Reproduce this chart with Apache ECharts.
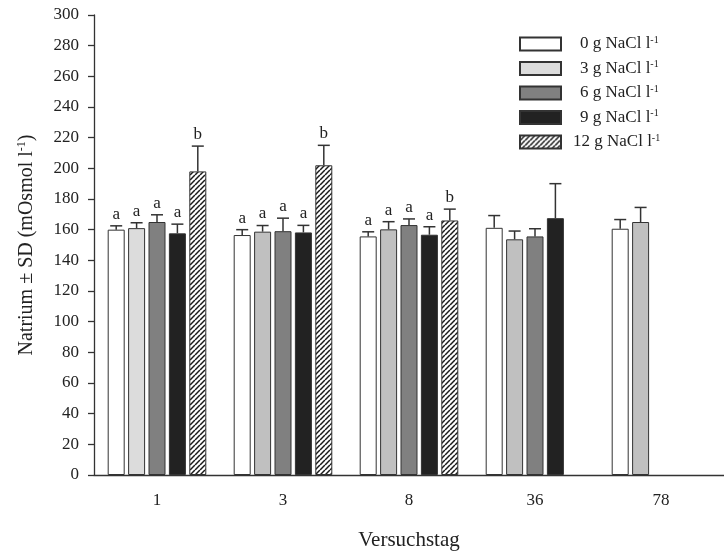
<!DOCTYPE html>
<html>
<head>
<meta charset="utf-8">
<script src="https://cdn.jsdelivr.net/npm/echarts@6/dist/echarts.min.js"></script>
<style>html,body{margin:0;padding:0;background:#fff;}#c{width:724px;height:556px;}</style>
</head>
<body>
<div id="c"></div>
<script>
const categories = ['1', '3', '8', '36', '78'];
const groupNames = ['0 g NaCl', '3 g NaCl', '6 g NaCl', '9 g NaCl', '12 g NaCl'];
const mean0 = [160, 156.5, 155.6, 161.2, 160.6];
const sd0 = [2.5, 3.5, 3, 8, 6];
const mean3 = [161, 158.7, 160.2, 153.7, 165];
const sd3 = [3.5, 4, 5, 5.4, 9.5];
const mean6 = [165, 159, 163, 155.6, null];
const sd6 = [4.7, 8.5, 4, 5, null];
const mean9 = [157.6, 158.2, 156.7, 167.5, null];
const sd9 = [6, 4.6, 5.2, 22.5, null];
const mean12 = [198, 202, 166, null, null];
const sd12 = [16.5, 13, 7.4, null, null];
const letters0 = ['a', 'a', 'a', '', ''];
const letters3 = ['a', 'a', 'a', '', ''];
const letters6 = ['a', 'a', 'a', '', ''];
const letters9 = ['a', 'a', 'a', '', ''];
const letters12 = ['b', 'b', 'b', '', ''];
const yTicks = {min: 0, max: 300, interval: 20};

const means = [mean0, mean3, mean6, mean9, mean12];
const sds = [sd0, sd3, sd6, sd9, sd12];
const letters = [letters0, letters3, letters6, letters9, letters12];

// hatch pattern
const pc = document.createElement('canvas');
pc.width = 5; pc.height = 5;
const ctx = pc.getContext('2d');
ctx.fillStyle = '#ffffff'; ctx.fillRect(0, 0, 5, 5);
ctx.strokeStyle = '#1a1a1a'; ctx.lineWidth = 1.5;
[-5, 0, 5].forEach(function (dx) {
  ctx.beginPath(); ctx.moveTo(dx, 5); ctx.lineTo(dx + 5, 0); ctx.stroke();
});

const colors = ['#ffffff', '#dcdcdc', '#808080', '#222222', {image: pc, repeat: 'repeat'}];
const BAR_W = 17;
const PITCH = 20.4;
const serif = 'Liberation Serif';

const series = [];
for (let s = 0; s < 5; s++) {
  series.push({
    type: 'bar',
    name: groupNames[s],
    barWidth: BAR_W,
    barGap: '20%',
    data: means[s].map(function (v, i) {
      if (v === null) return '-';
      if (s === 1 && i > 0) return {value: v, itemStyle: {color: '#c0c0c0'}};
      return v;
    }),
    itemStyle: {color: colors[s], borderColor: '#333', borderWidth: 1},
    emphasis: {disabled: true},
    z: 2
  });
}
for (let s = 0; s < 5; s++) {
  const data = [];
  means[s].forEach(function (v, i) {
    if (v !== null) data.push([i, v, sds[s][i], letters[s][i]]);
  });
  series.push({
    type: 'custom',
    name: 'err' + s,
    data: data,
    encode: {x: 0, y: [1, 2]},
    z: 3,
    renderItem: function (params, api) {
      const i = api.value(0);
      const m = api.value(1);
      const sd = api.value(2);
      const letter = data[params.dataIndex][3];
      const x = api.coord([i, 0])[0] + (s - 2) * PITCH;
      const yb = api.coord([i, m])[1];
      const yt = api.coord([i, m + sd])[1];
      const style = {stroke: '#333', lineWidth: 1.5};
      const ch = [
        {type: 'line', shape: {x1: x, y1: yb, x2: x, y2: yt}, style: style},
        {type: 'line', shape: {x1: x - 6, y1: yt, x2: x + 6, y2: yt}, style: style}
      ];
      if (letter) {
        ch.push({type: 'text', style: {text: letter, x: x, y: yt - 3, align: 'center', verticalAlign: 'bottom', font: '17px "Liberation Serif"', fill: '#222'}});
      }
      return {type: 'group', children: ch};
    }
  });
}

const legendData = groupNames.map(function (n, i) {
  return {name: n, icon: 'rect', textStyle: {padding: [0, 0, 0, i === 4 ? 7 : 14]}};
});

const chart = echarts.init(document.getElementById('c'), null, {renderer: 'canvas'});
chart.setOption({
  animation: false,
  backgroundColor: '#ffffff',
  grid: {left: 94, top: 15, width: 641, height: 462},
  legend: {
    data: legendData,
    orient: 'vertical',
    left: 514,
    top: 30,
    itemWidth: 41,
    itemHeight: 13,
    itemGap: 7,
    selectedMode: false,
    formatter: function (n) { return n + ' l{sup|-1}'; },
    textStyle: {
      fontFamily: serif, fontSize: 17, color: '#222',
      rich: {sup: {fontFamily: serif, fontSize: 10, verticalAlign: 'top', padding: [0, 0, 8, 0], color: '#222'}}
    }
  },
  xAxis: {
    type: 'category',
    data: categories,
    name: 'Versuchstag',
    nameLocation: 'middle',
    nameGap: 55,
    nameTextStyle: {fontFamily: serif, fontSize: 21, color: '#222'},
    axisLine: {lineStyle: {color: '#333', width: 1.3}},
    axisTick: {alignWithLabel: true, length: 6, lineStyle: {color: '#333', width: 1.3}},
    axisLabel: {fontFamily: serif, fontSize: 17, color: '#222', margin: 17},
    splitLine: {show: false}
  },
  yAxis: {
    type: 'value',
    min: yTicks.min,
    max: yTicks.max,
    interval: yTicks.interval,
    name: 'Natrium ± SD (mOsmol l{sup|-1})',
    nameLocation: 'middle',
    nameGap: 56,
    nameTextStyle: {fontFamily: serif, fontSize: 20, color: '#222',
      rich: {sup: {fontFamily: serif, fontSize: 12, verticalAlign: 'top', padding: [0, 0, 10, 0], color: '#222'}}},
    axisLine: {show: true, lineStyle: {color: '#333', width: 1.3}},
    axisTick: {show: true, length: 6, lineStyle: {color: '#333', width: 1.3}},
    axisLabel: {fontFamily: serif, fontSize: 17, color: '#222', margin: 15},
    splitLine: {show: false}
  },
  series: series
});
</script>
</body>
</html>
